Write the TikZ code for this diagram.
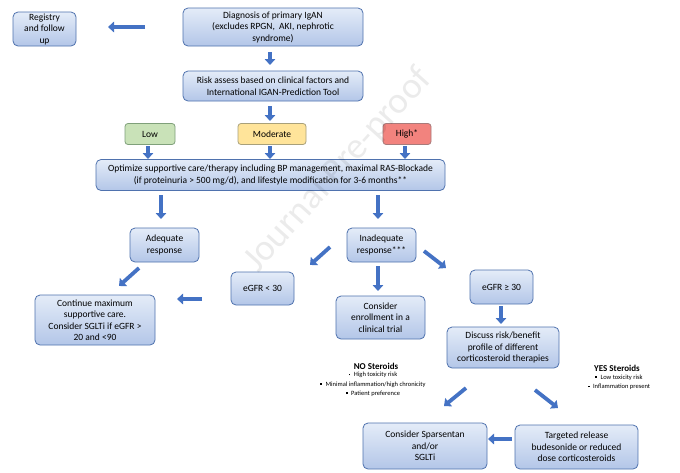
\documentclass[tikz,border=0pt]{standalone}
\usepackage{fontspec}
\setmainfont{Carlito}
\usetikzlibrary{arrows.meta}
\definecolor{boxborder}{HTML}{4F72AE}
\definecolor{boxtop}{HTML}{E4ECF8}
\definecolor{boxbot}{HTML}{B3C6E8}
\definecolor{arrowblue}{HTML}{4472C4}
\definecolor{lowfill}{HTML}{C9E2B8}
\definecolor{lowborder}{HTML}{7FA07A}
\definecolor{modfill}{HTML}{FFE49A}
\definecolor{modborder}{HTML}{A8A07A}
\definecolor{highfill}{HTML}{F2837E}
\definecolor{highborder}{HTML}{A87A7A}
\tikzset{
  box/.style={draw=boxborder, line width=0.8pt, rounded corners=5pt, top color=boxtop, bottom color=boxbot,
    align=center, inner sep=0pt, font=\fontsize{9.5}{11.5}\selectfont},
  riskbox/.style={line width=0.8pt, rounded corners=3pt, align=center, inner sep=0pt,
    font=\fontsize{9.5}{11.5}\selectfont},
  barrow/.style={draw=arrowblue, line width=3.8pt, -{Triangle[length=6pt,width=10.5pt]}},
  bul/.style={font=\fontsize{6.5}{9.3}\selectfont, align=center, inner sep=0pt},
  steroid/.style={font=\bfseries\fontsize{9}{10}\selectfont, inner sep=0pt}
}
\newcommand{\sqb}{\rule[1.3pt]{1.7pt}{1.7pt}\hspace{3.5pt}}
\begin{document}
\begin{tikzpicture}[x=1pt,y=-1pt]
\useasboundingbox (0,0) rectangle (680,472);
\fill[white] (0,0) rectangle (680,472);

% boxes
\node[box, minimum width=63pt, minimum height=34pt] (reg) at (44.5,29) {Registry\\and follow\\up};
\node[box, minimum width=180pt, minimum height=38pt] (diag) at (273,27) {Diagnosis of primary IgAN\\(excludes RPGN,\ \ AKI, nephrotic\\syndrome)};
\node[box, minimum width=180pt, minimum height=30pt] (risk) at (273,86) {Risk assess based on clinical factors and\\International IGAN-Prediction Tool};
\node[riskbox, draw=lowborder, fill=lowfill, minimum width=50pt, minimum height=21pt] (low) at (150,134) {Low};
\node[riskbox, draw=modborder, fill=modfill, minimum width=68pt, minimum height=21pt] (mod) at (272,134) {Moderate};
\node[riskbox, draw=highborder, fill=highfill, minimum width=48pt, minimum height=21pt] (high) at (407,134) {High*};
\node[box, minimum width=349pt, minimum height=31pt] (opt) at (270.5,175) {Optimize supportive care/therapy including BP management, maximal RAS-Blockade\\(if proteinuria > 500 mg/d), and lifestyle modification for 3-6 months**};
\node[box, minimum width=69pt, minimum height=34pt] (adeq) at (164.5,245) {Adequate\\response};
\node[box, minimum width=69pt, minimum height=34pt] (inad) at (381.5,245) {Inadequate\\response***};
\node[box, minimum width=120pt, minimum height=50pt] (cont) at (95,320) {Continue maximum\\supportive care.\\Consider SGLTi if eGFR >\\20 and <90};
\node[box, minimum width=63pt, minimum height=33pt] (lt) at (262.5,288.5) {eGFR < 30};
\node[box, minimum width=89pt, minimum height=43pt] (enr) at (380.5,317.5) {Consider\\enrollment in a\\clinical trial};
\node[box, minimum width=63pt, minimum height=34pt] (ge) at (501.5,287) {eGFR ≥ 30};
\node[box, minimum width=112pt, minimum height=41pt] (disc) at (503,347.5) {Discuss risk/benefit\\profile of different\\corticosteroid therapies};
\node[box, minimum width=124pt, minimum height=46pt] (spar) at (425,446) {Consider Sparsentan\\and/or\\SGLTi};
\node[box, minimum width=123pt, minimum height=44pt] (targ) at (576.5,447) {Targeted release\\budesonide or reduced\\dose corticosteroids};

% side texts
\node[steroid] (nos) at (376,366) {NO Steroids};
\node[bul, anchor=north] (nob) at (373,372) {\sqb High toxicity risk\\\sqb Minimal inflammation/high chronicity\\\sqb Patient preference};
\node[steroid] (yess) at (617,368) {YES Steroids};
\node[bul, anchor=north] (yesb) at (619,374.5) {\sqb Low toxicity risk\\\sqb Inflammation present};

% arrow end points
\path (145,27) coordinate (a1s) (108,27) coordinate (a1e)
      (270,52) coordinate (a2s) (270,65) coordinate (a2e)
      (270,106) coordinate (a3s) (270,121) coordinate (a3e)
      (148,146) coordinate (a4s) (148,159) coordinate (a4e)
      (270,146) coordinate (a5s) (270,159) coordinate (a5e)
      (405,146) coordinate (a6s) (405,159) coordinate (a6e)
      (161,195) coordinate (a7s) (161,219) coordinate (a7e)
      (378,195) coordinate (a8s) (378,219) coordinate (a8e)
      (139,268) coordinate (a9s) (119,286) coordinate (a9e)
      (202,299) coordinate (a10s) (177,299) coordinate (a10e)
      (330,247) coordinate (a11s) (310,265) coordinate (a11e)
      (378,266) coordinate (a12s) (378,291) coordinate (a12e)
      (424,251) coordinate (a13s) (446,268) coordinate (a13e)
      (501,306) coordinate (a14s) (501,324) coordinate (a14e)
      (466,388) coordinate (a15s) (444,406) coordinate (a15e)
      (535,390) coordinate (a16s) (558,408) coordinate (a16e)
      (512,439) coordinate (a17s) (488,439) coordinate (a17e);

\draw[barrow] (a1s) -- (a1e);
\draw[barrow] (a2s) -- (a2e);
\draw[barrow] (a3s) -- (a3e);
\draw[barrow] (a4s) -- (a4e);
\draw[barrow] (a5s) -- (a5e);
\draw[barrow] (a6s) -- (a6e);
\draw[barrow] (a7s) -- (a7e);
\draw[barrow] (a8s) -- (a8e);
\draw[barrow] (a9s) -- (a9e);
\draw[barrow] (a10s) -- (a10e);
\draw[barrow] (a11s) -- (a11e);
\draw[barrow] (a12s) -- (a12e);
\draw[barrow] (a13s) -- (a13e);
\draw[barrow] (a14s) -- (a14e);
\draw[barrow] (a15s) -- (a15e);
\draw[barrow] (a16s) -- (a16e);
\draw[barrow] (a17s) -- (a17e);

% watermark
\node[rotate=48, text=black, text opacity=0.08, font=\fontsize{37}{37}\selectfont, inner sep=0pt] (wm) at (338,170) {Journal Pre-proof};
\end{tikzpicture}
\end{document}
